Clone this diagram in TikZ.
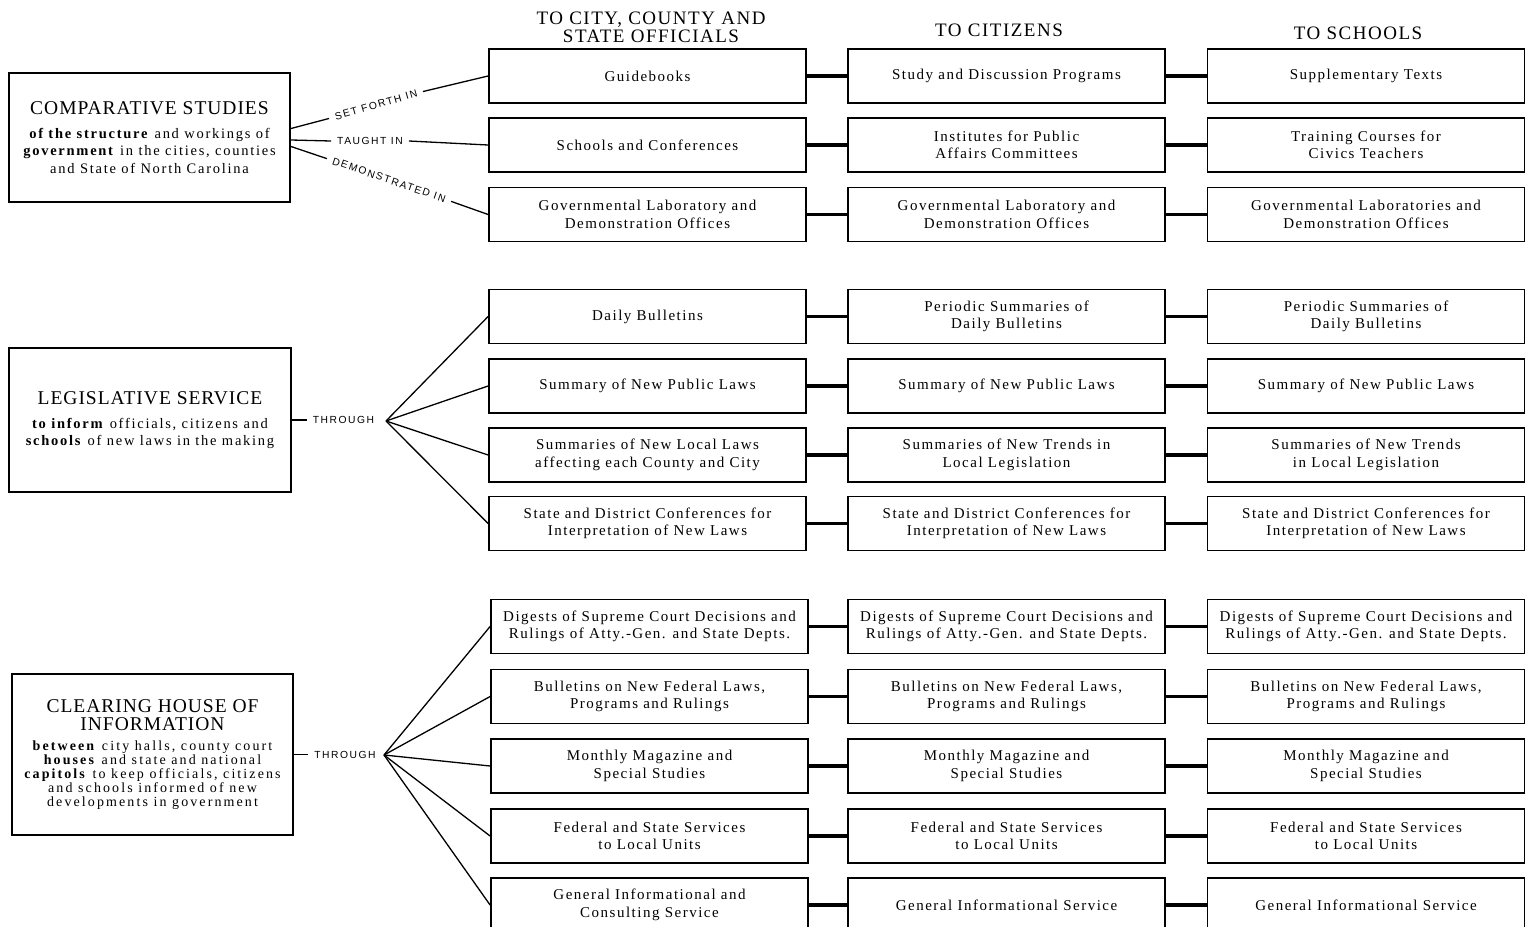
\documentclass[tikz,border=0pt]{standalone}
\usepackage{fontspec}
\setmainfont{Liberation Serif}
\newfontfamily\boxf[LetterSpace=10]{Liberation Serif}
\newfontfamily\hdrf[LetterSpace=8]{Liberation Serif}
\newfontfamily\ttlf[LetterSpace=5]{Liberation Serif}
\newfontfamily\bodyf[LetterSpace=12]{Liberation Serif}
\newfontfamily\bodysf[LetterSpace=15]{Liberation Serif}
\newfontfamily\labf[LetterSpace=15]{Liberation Sans}
\newcommand\ttlfont{\ttlf\fontsize{19.5}{18}\selectfont}
\newcommand\bdfont{\bodyf\fontsize{14.5}{17.5}\selectfont}
\newcommand\bdsfont{\bodysf\fontsize{14}{14}\selectfont}
\usetikzlibrary{calc}
\tikzset{
  item/.style={draw, line width=1.8pt, minimum width=317pt, minimum height=54pt, inner sep=0pt, align=center, font=\boxf\fontsize{15}{17.5}\selectfont},
  mainbox/.style={draw, line width=2pt, align=center, inner sep=0pt},
  conn/.style={line width=3.2pt},
  thinline/.style={line width=1.3pt},
  lab/.style={font=\labf\fontsize{10.3}{12}\selectfont, inner xsep=6pt, inner ysep=3pt},
  hdr/.style={align=center, inner sep=0pt, font=\hdrf\fontsize{19}{18}\selectfont},
}
\begin{document}
\begin{tikzpicture}[x=1pt,y=-1pt]
\useasboundingbox (0,0) rectangle (1533,926);
\fill[white] (0,0) rectangle (1533,926);

% headers
\node[hdr] (h1) at (651,27) {TO CITY, COUNTY AND\\STATE OFFICIALS};
\node[hdr] (h2) at (999,30) {TO CITIZENS};
\node[hdr] (h3) at (1358,33) {TO SCHOOLS};

% main boxes
\node[mainbox, font=\bdfont, minimum width=281pt, minimum height=129pt] (cs) at (149.5,137.5)
 {{\ttlfont COMPARATIVE STUDIES}\\[6.5pt]
  \textbf{of the structure} and workings of\\
  \textbf{government} in the cities, counties\\
  and State of North Carolina};
\node[mainbox, font=\bdfont, minimum width=282pt, minimum height=144pt] (ls) at (150,420)
 {{\ttlfont LEGISLATIVE SERVICE}\\[6.5pt]
  \textbf{to inform} officials, citizens and\\
  \textbf{schools} of new laws in the making};
\node[mainbox, font=\bdsfont, minimum width=281pt, minimum height=161pt] (ch) at (152.5,754.5)
 {{\ttlfont CLEARING HOUSE OF}\\[4pt]
  {\ttlfont INFORMATION}\\[6pt]
  \textbf{between} city halls, county court\\
  \textbf{houses} and state and national\\
  \textbf{capitols} to keep officials, citizens\\
  and schools informed of new\\
  developments in government};

% group 1
\node[item] (p111) at (647.5,76) {Guidebooks};
\node[item] (p112) at (1006.5,76) {Study and Discussion Programs};
\node[item] (p113) at (1366,76) {Supplementary Texts};
\node[item] (p121) at (647.5,145) {Schools and Conferences};
\node[item] (p122) at (1006.5,145) {Institutes for Public\\Affairs Committees};
\node[item] (p123) at (1366,145) {Training Courses for\\Civics Teachers};
\node[item] (p131) at (647.5,214.5) {Governmental Laboratory and\\Demonstration Offices};
\node[item] (p132) at (1006.5,214.5) {Governmental Laboratory and\\Demonstration Offices};
\node[item] (p133) at (1366,214.5) {Governmental Laboratories and\\Demonstration Offices};

% group 2
\node[item] (p211) at (647.5,316.5) {Daily Bulletins};
\node[item] (p212) at (1006.5,316.5) {Periodic Summaries of\\Daily Bulletins};
\node[item] (p213) at (1366,316.5) {Periodic Summaries of\\Daily Bulletins};
\node[item] (p221) at (647.5,386) {Summary of New Public Laws};
\node[item] (p222) at (1006.5,386) {Summary of New Public Laws};
\node[item] (p223) at (1366,386) {Summary of New Public Laws};
\node[item] (p231) at (647.5,455) {Summaries of New Local Laws\\affecting each County and City};
\node[item] (p232) at (1006.5,455) {Summaries of New Trends in\\Local Legislation};
\node[item] (p233) at (1366,455) {Summaries of New Trends\\in Local Legislation};
\node[item] (p241) at (647.5,523.5) {State and District Conferences for\\Interpretation of New Laws};
\node[item] (p242) at (1006.5,523.5) {State and District Conferences for\\Interpretation of New Laws};
\node[item] (p243) at (1366,523.5) {State and District Conferences for\\Interpretation of New Laws};

% group 3
\node[item] (p311) at (649.5,626.5) {Digests of Supreme Court Decisions and\\Rulings of Atty.-Gen. and State Depts.};
\node[item] (p312) at (1006.5,626.5) {Digests of Supreme Court Decisions and\\Rulings of Atty.-Gen. and State Depts.};
\node[item] (p313) at (1366,626.5) {Digests of Supreme Court Decisions and\\Rulings of Atty.-Gen. and State Depts.};
\node[item] (p321) at (649.5,696.5) {Bulletins on New Federal Laws,\\Programs and Rulings};
\node[item] (p322) at (1006.5,696.5) {Bulletins on New Federal Laws,\\Programs and Rulings};
\node[item] (p323) at (1366,696.5) {Bulletins on New Federal Laws,\\Programs and Rulings};
\node[item] (p331) at (649.5,766) {Monthly Magazine and\\Special Studies};
\node[item] (p332) at (1006.5,766) {Monthly Magazine and\\Special Studies};
\node[item] (p333) at (1366,766) {Monthly Magazine and\\Special Studies};
\node[item] (p341) at (649.5,836) {Federal and State Services\\to Local Units};
\node[item] (p342) at (1006.5,836) {Federal and State Services\\to Local Units};
\node[item] (p343) at (1366,836) {Federal and State Services\\to Local Units};
\node[item] (p351) at (649.5,905) {General Informational and\\Consulting Service};
\node[item] (p352) at (1006.5,905) {General Informational Service};
\node[item] (p353) at (1366,905) {General Informational Service};

% horizontal connectors
\foreach \r in {11,12,13,21,22,23,24,31,32,33,34,35}{
  \draw[conn] (p\r1.east) -- (p\r2.west);
  \draw[conn] (p\r2.east) -- (p\r3.west);
}

% comparative studies labels
\node[lab, rotate=16] (l1) at (376,105) {SET FORTH IN};
\node[lab] (l2) at (370,141) {TAUGHT IN};
\node[lab, rotate=-19] (l3) at (389,180) {DEMONSTRATED IN};
\draw[thinline] ($(cs.east)+(0,-9)$) -- (l1.west);
\draw[thinline] (l1.east) -- (p111.west);
\draw[thinline] ($(cs.east)+(0,2.5)$) -- (l2.west);
\draw[thinline] (l2.east) -- (p121.west);
\draw[thinline] ($(cs.east)+(0,9)$) -- (l3.west);
\draw[thinline] (l3.east) -- (p131.west);

% legislative fan
\node[lab] (t2) at (343.5,420) {THROUGH};
\coordinate (f2) at (386,421);
\draw[thinline] (ls.east) -- (t2.west);
\foreach \r in {21,22,23,24}{ \draw[thinline] (f2) -- (p\r1.west); }

% clearing house fan
\node[lab] (t3) at (345,754.5) {THROUGH};
\coordinate (f3) at (384,755);
\draw[thinline] (ch.east) -- (t3.west);
\foreach \r in {31,32,33,34,35}{ \draw[thinline] (f3) -- (p\r1.west); }
\end{tikzpicture}
\end{document}
